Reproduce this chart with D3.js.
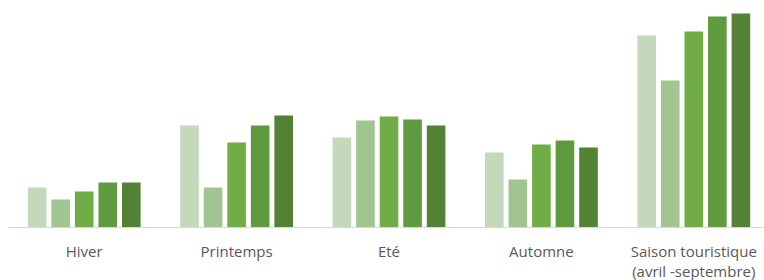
<!DOCTYPE html>
<html>
<head>
<meta charset="utf-8">
<script src="https://cdn.jsdelivr.net/npm/d3@7"></script>
<style>
  body { margin: 0; background: #fff; }
  svg { display: block; }
</style>
</head>
<body>
<div id="chart"></div>
<script>
// categories and series (no y axis shown, arbitrary units)
const categories = ['Hiver', 'Printemps', 'Eté', 'Automne', 'Saison touristique\n(avril -septembre)'];
const seriesNames = ['s1', 's2', 's3', 's4', 's5'];
const s1 = [40, 102, 90, 75, 192];
const s2 = [28, 40, 107, 48, 147];
const s3 = [36, 85, 111, 83, 196];
const s4 = [45, 102, 108, 87, 211];
const s5 = [45, 112, 102, 80, 214];
const allSeries = [s1, s2, s3, s4, s5];

const colors = ['#c4d8bc', '#a2c490', '#70ad47', '#5f9a3e', '#538135'];

const width = 764, height = 280;
const baseY = 227.5;

const svg = d3.select('#chart').append('svg')
  .attr('width', width)
  .attr('height', height);

const x0 = d3.scaleBand()
  .domain(categories)
  .range([8, 770])
  .paddingInner(0.26)
  .paddingOuter(0.13);

const x1 = d3.scaleBand()
  .domain(seriesNames)
  .range([0, x0.bandwidth()])
  .paddingInner(0.21);

const y = d3.scaleLinear()
  .domain([0, 220])
  .range([baseY, 7.5]);

const rows = categories.map((c, i) => ({
  cat: c,
  vals: allSeries.map((s, j) => ({ key: seriesNames[j], v: s[i], color: colors[j] }))
}));

const groups = svg.selectAll('g.grp')
  .data(rows)
  .enter().append('g')
  .attr('class', 'grp')
  .attr('transform', d => 'translate(' + x0(d.cat) + ',0)');

groups.selectAll('rect')
  .data(d => d.vals)
  .enter().append('rect')
  .attr('x', d => x1(d.key))
  .attr('width', x1.bandwidth())
  .attr('y', d => y(d.v))
  .attr('height', d => baseY - y(d.v))
  .style('fill', d => d.color);

// baseline
svg.append('line')
  .attr('x1', 8).attr('x2', width)
  .attr('y1', baseY).attr('y2', baseY)
  .style('stroke', '#d9d9d9')
  .style('stroke-width', 1);

// category labels
const labels = svg.selectAll('text.cat')
  .data(categories)
  .enter().append('text')
  .attr('class', 'cat')
  .attr('text-anchor', 'middle')
  .attr('x', d => x0(d) + x0.bandwidth() / 2)
  .attr('y', 257)
  .style('font-family', '"Open Sans", sans-serif')
  .style('font-size', '15px')
  .style('fill', '#595959');

labels.each(function (d) {
  const parts = d.split('\n');
  const t = d3.select(this);
  parts.forEach((p, i) => {
    t.append('tspan')
      .attr('x', t.attr('x'))
      .attr('dy', i === 0 ? 0 : 19.5)
      .text(p);
  });
});
</script>
</body>
</html>
